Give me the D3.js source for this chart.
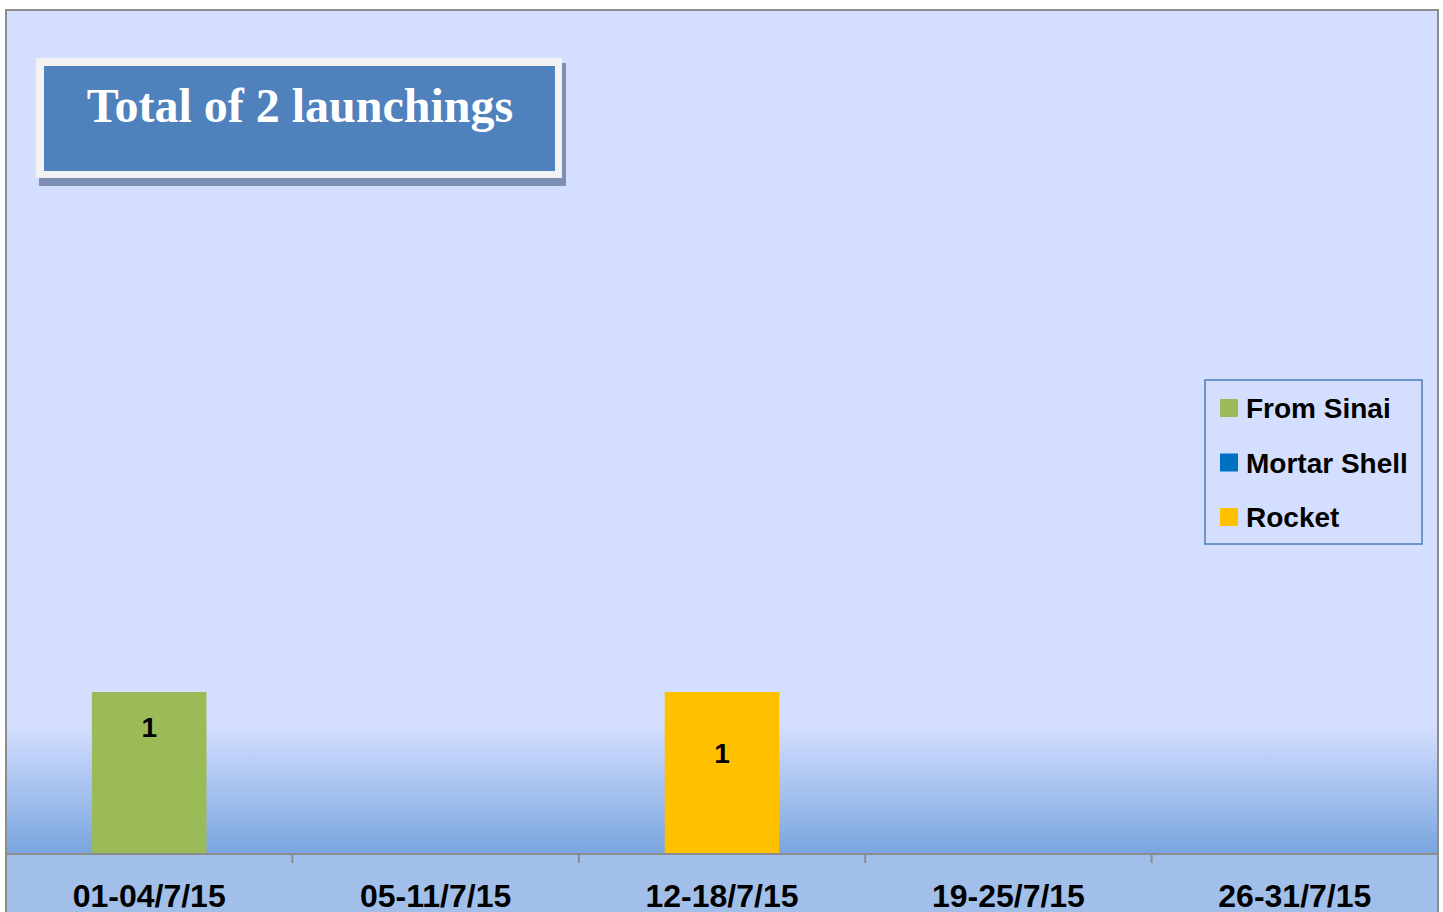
<!DOCTYPE html>
<meta charset='utf-8'>
<style>
body { margin: 0; background: #fff; }
svg text { font-family: 'Liberation Sans', Arial, sans-serif; font-weight: bold; }
.title text { font-family: 'Liberation Serif', 'Times New Roman', serif; }
</style>
<script src='https://cdn.jsdelivr.net/npm/d3@7/dist/d3.min.js'></script>
<body>
<script>
'use strict'

// Data
let categories = ['01-04/7/15', '05-11/7/15', '12-18/7/15', '19-25/7/15', '26-31/7/15'],
	series = ['From Sinai', 'Mortar Shell', 'Rocket'],
	fromSinai = [1, 0, 0, 0, 0],
	mortarShell = [0, 0, 0, 0, 0],
	rocket = [0, 0, 1, 0, 0],
	titleText = 'Total of 2 launchings'

let colors = {'From Sinai': '#9bbb59', 'Mortar Shell': '#0070c0', 'Rocket': '#ffc000'},
	labelDy = {'From Sinai': 45, 'Mortar Shell': 45, 'Rocket': 71}

let rows = categories.map((c, i) => ({cat: c,
	'From Sinai': fromSinai[i], 'Mortar Shell': mortarShell[i], 'Rocket': rocket[i]}))

// Layout
let W = 1443, H = 912,
	plot = {left: 6, right: 1438, top: 44, bottom: 854}

let svg = d3.select('body').append('svg')
	.attr('width', W).attr('height', H)

let defs = svg.append('defs'),
	grad = defs.append('linearGradient').attr('id', 'floor')
		.attr('x1', 0).attr('y1', 0).attr('x2', 0).attr('y2', 1)
grad.append('stop').attr('offset', '0%').attr('stop-color', '#d4deff')
grad.append('stop').attr('offset', '100%').attr('stop-color', '#79a5de')

// chart area
svg.append('rect')
	.attr('x', 6).attr('y', 10).attr('width', 1432).attr('height', 920)
	.attr('fill', '#d4deff').attr('stroke', '#8c8c8c').attr('stroke-width', 2)
svg.append('rect')
	.attr('x', 7).attr('y', 726).attr('width', 1430).attr('height', plot.bottom - 726)
	.attr('fill', 'url(#floor)')
svg.append('rect')
	.attr('x', 7).attr('y', plot.bottom).attr('width', 1430).attr('height', H - plot.bottom)
	.attr('fill', '#a2bfe9')

// Scales
let x = d3.scaleBand(categories, [plot.left, plot.right]).paddingInner(0.6).paddingOuter(0.3),
	y = d3.scaleLinear([0, 5], [plot.bottom, plot.top])

let stacked = d3.stack().keys(series)(rows)

let bars = svg.append('g').attr('class', 'bars')
stacked.forEach(layer => {
	let key = layer.key
	bars.append('g').attr('fill', colors[key])
		.selectAll('rect')
		.data(layer.filter(d => d[1] > d[0]))
		.join('rect')
			.attr('x', d => x(d.data.cat))
			.attr('y', d => y(d[1]))
			.attr('width', x.bandwidth())
			.attr('height', d => y(d[0]) - y(d[1]))
	bars.append('g')
		.selectAll('text')
		.data(layer.filter(d => d[1] > d[0]))
		.join('text')
			.attr('x', d => x(d.data.cat) + x.bandwidth() / 2)
			.attr('y', d => y(d[1]) + labelDy[key])
			.attr('text-anchor', 'middle')
			.attr('font-size', 28).attr('fill', '#000')
			.text(d => d.data[key])
})

// X axis
let step = x.step()
let axis = svg.append('g')
	.attr('transform', `translate(0,${plot.bottom})`)
	.call(d3.axisBottom(x).tickSize(0).tickPadding(0))
axis.select('.domain').remove()
axis.append('line')
	.attr('x1', 7).attr('x2', 1437)
	.attr('stroke', '#8c8c8c').attr('stroke-width', 2)
axis.selectAll('.tick text')
	.attr('y', 53).attr('dy', 0)
	.attr('font-size', 32).attr('fill', '#000')
	.attr('font-family', "'Liberation Sans', Arial, sans-serif")
axis.append('g').selectAll('line')
	.data(categories.slice(1))
	.join('line')
		.attr('x1', d => x(d) - step * 0.3).attr('x2', d => x(d) - step * 0.3)
		.attr('y1', 0).attr('y2', 9)
		.attr('stroke', '#8c8c8c').attr('stroke-width', 2)

// Title box
let title = svg.append('g').attr('class', 'title')
title.append('rect').attr('x', 39).attr('y', 63).attr('width', 527).attr('height', 123)
	.attr('fill', '#7d8fb2')
title.append('rect').attr('x', 36).attr('y', 58).attr('width', 526).attr('height', 120)
	.attr('fill', '#f2f2f2')
title.append('rect').attr('x', 44).attr('y', 66).attr('width', 511).attr('height', 105)
	.attr('fill', '#4f81bd')
title.append('text').attr('x', 300).attr('y', 122)
	.attr('text-anchor', 'middle').attr('font-size', 48).attr('fill', '#fff')
	.text(titleText)

// Legend
let legend = svg.append('g').attr('transform', 'translate(1205,380)')
legend.append('rect').attr('width', 217).attr('height', 164)
	.attr('fill', 'none').attr('stroke', '#4a7ebb').attr('stroke-width', 1.5)
let item = legend.selectAll('g.item').data(series).join('g')
	.attr('class', 'item')
	.attr('transform', (d, i) => `translate(15,${19 + i * 54.5})`)
item.append('rect').attr('width', 18).attr('height', 18).attr('fill', d => colors[d])
item.append('text').attr('x', 26).attr('y', 19)
	.attr('font-size', 28).attr('fill', '#000')
	.text(d => d)
</script>
</body>
